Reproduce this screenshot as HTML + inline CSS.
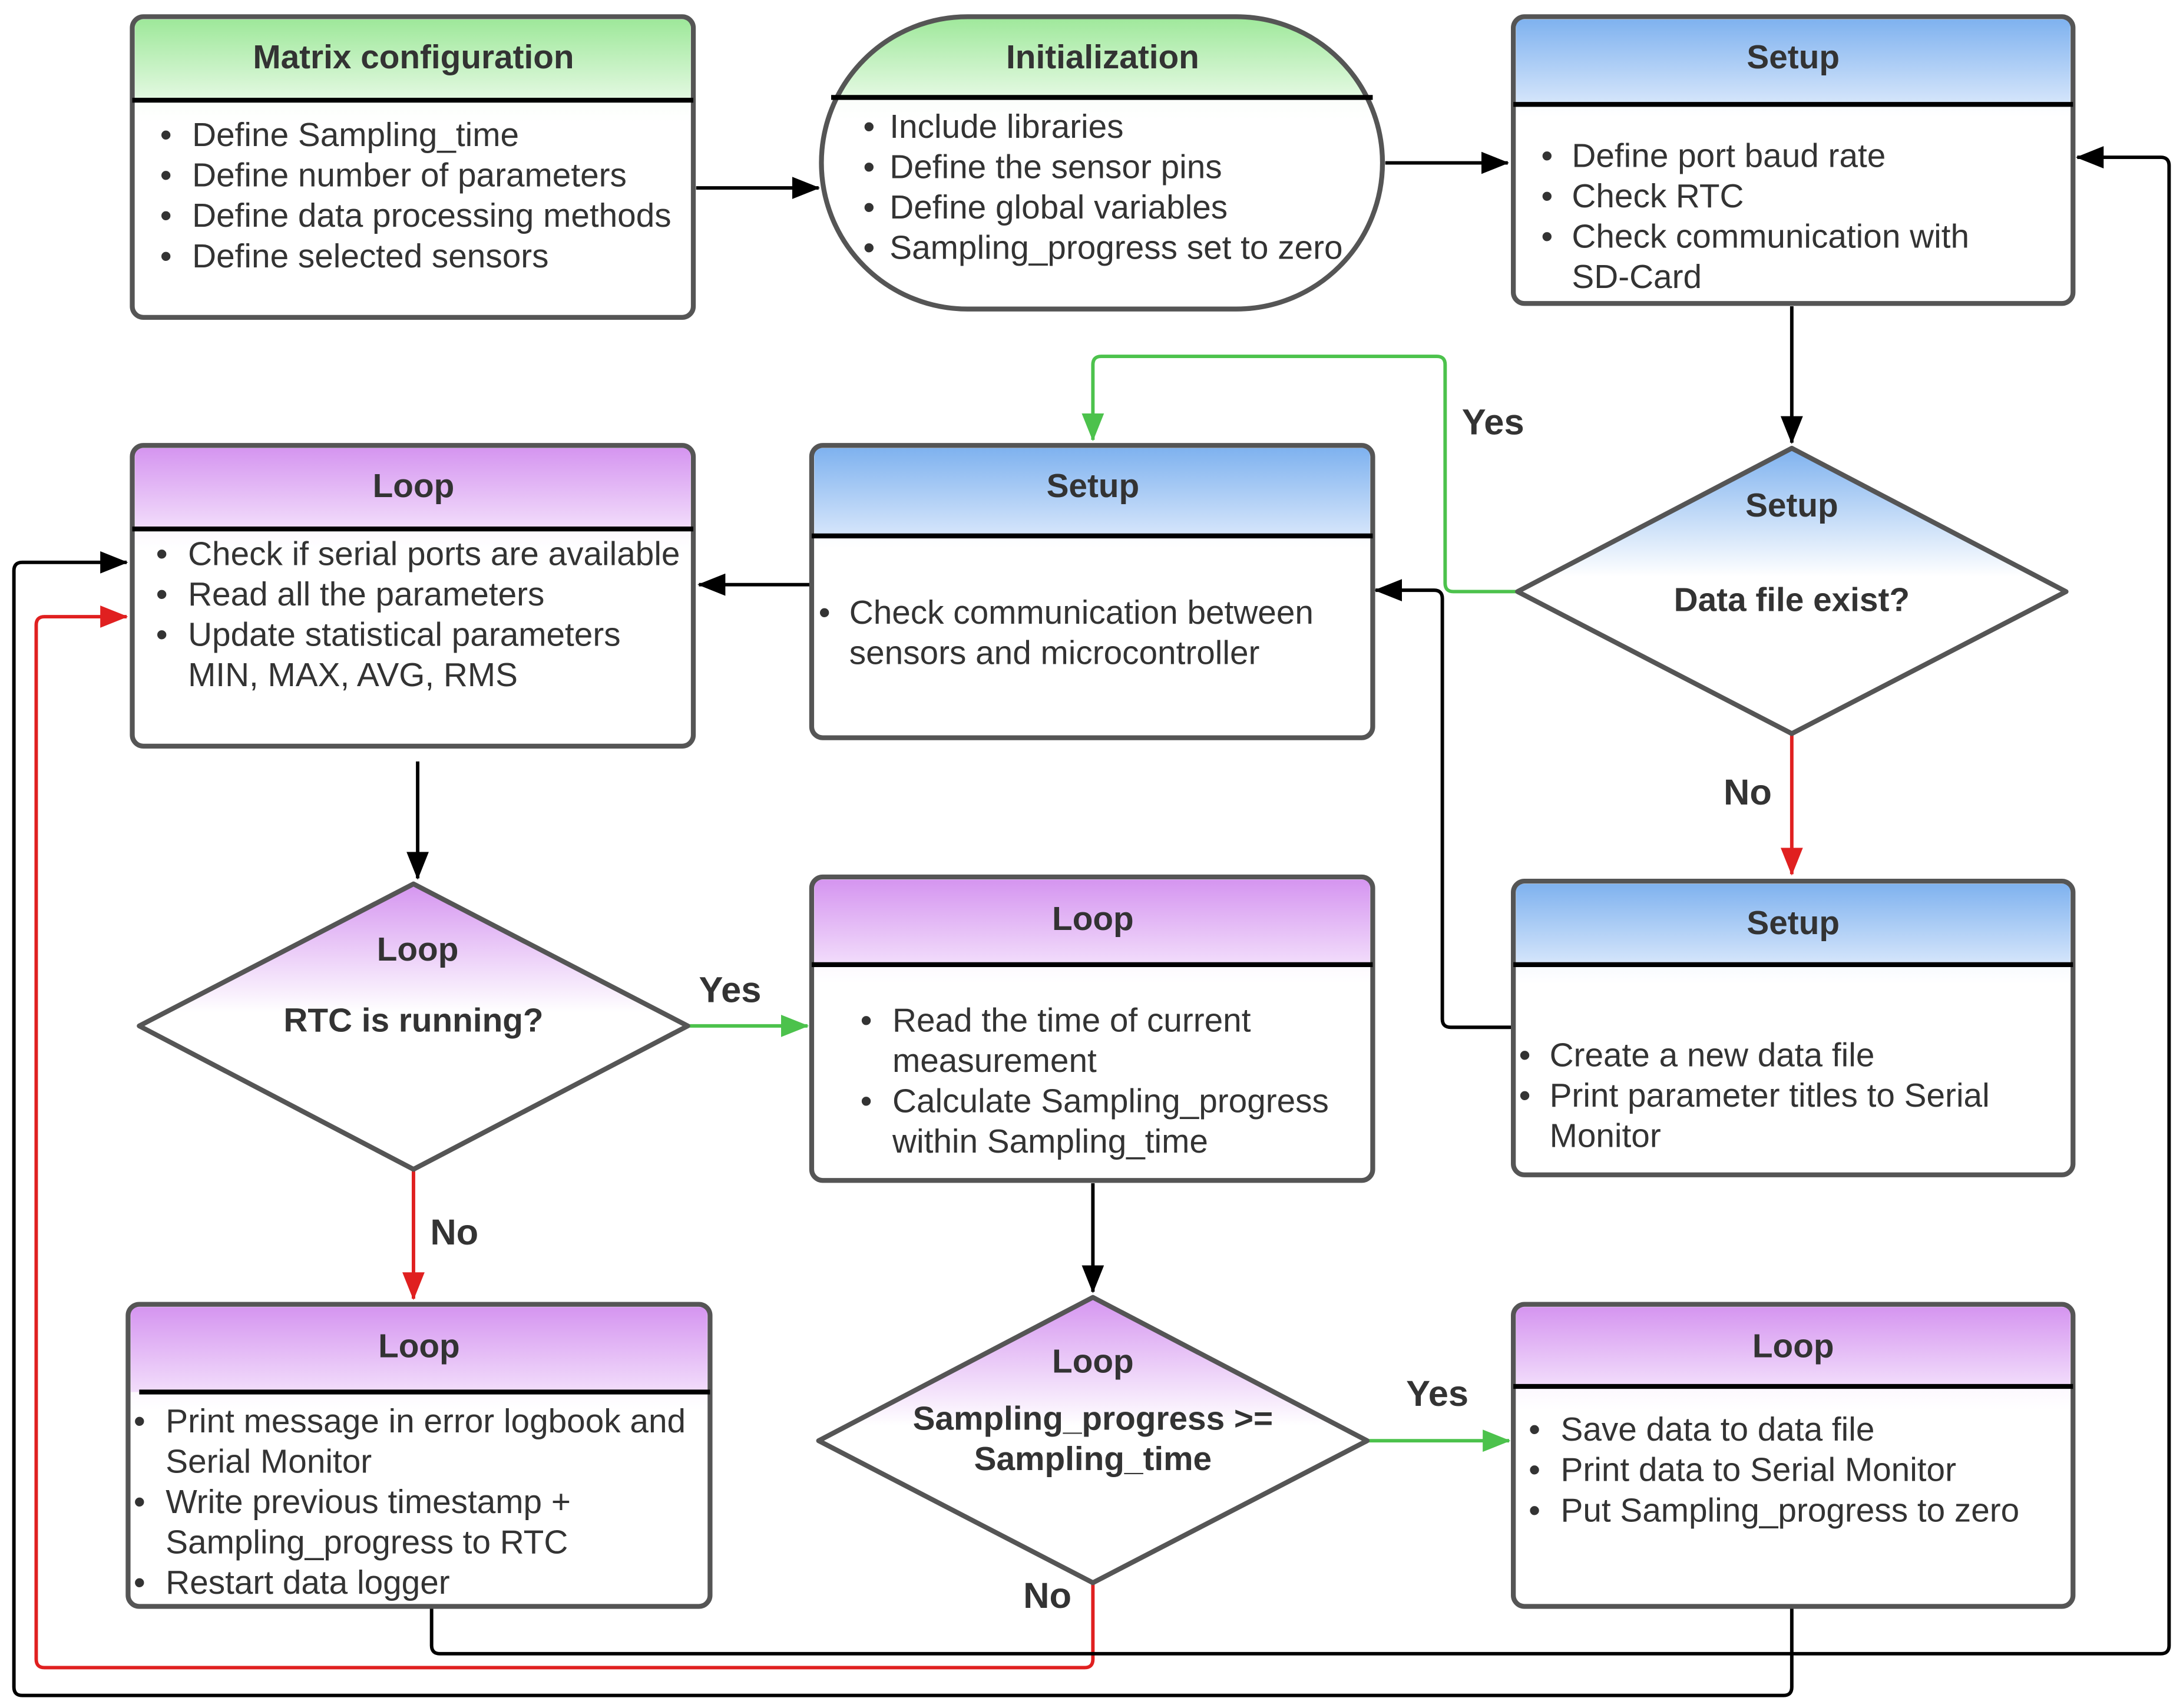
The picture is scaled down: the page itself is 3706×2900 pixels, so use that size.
<!DOCTYPE html>
<html><head><meta charset="utf-8">
<style>
html,body{margin:0;padding:0;background:#fff;}
svg{display:block;}
text{font-family:"Liberation Sans",Arial,sans-serif;fill:#333;}
.h{font-weight:bold;font-size:24px;text-anchor:middle;}
.t{font-size:24px;}
.lb{font-weight:bold;font-size:26px;}
</style></head><body>
<svg width="3706" height="2900" viewBox="0 0 1568 1227" preserveAspectRatio="none" xmlns="http://www.w3.org/2000/svg">
<defs>
<linearGradient id="g" x1="0" y1="0" x2="0" y2="1"><stop offset="0" stop-color="#9ee89a"/><stop offset="1" stop-color="#e4f9e2"/></linearGradient>
<linearGradient id="gb" x1="0" y1="0" x2="0" y2="1"><stop offset="0" stop-color="#e6fbe4"/><stop offset="0.35" stop-color="#fff"/></linearGradient>
<linearGradient id="b" x1="0" y1="0" x2="0" y2="1"><stop offset="0" stop-color="#7fb2ef"/><stop offset="1" stop-color="#d6e6fb"/></linearGradient>
<linearGradient id="bb" x1="0" y1="0" x2="0" y2="1"><stop offset="0" stop-color="#d6e6fb"/><stop offset="0.35" stop-color="#fff"/></linearGradient>
<linearGradient id="p" x1="0" y1="0" x2="0" y2="1"><stop offset="0" stop-color="#d595f0"/><stop offset="1" stop-color="#f2ddfb"/></linearGradient>
<linearGradient id="pb" x1="0" y1="0" x2="0" y2="1"><stop offset="0" stop-color="#f1dcfb"/><stop offset="0.35" stop-color="#fff"/></linearGradient>
<linearGradient id="db" x1="0" y1="0" x2="0" y2="1"><stop offset="0" stop-color="#7fb2ef"/><stop offset="0.45" stop-color="#fff"/></linearGradient>
<linearGradient id="dp" x1="0" y1="0" x2="0" y2="1"><stop offset="0" stop-color="#d595f0"/><stop offset="0.45" stop-color="#fff"/></linearGradient>
<marker id="ak" markerWidth="20" markerHeight="16" refX="19" refY="8" orient="auto" markerUnits="userSpaceOnUse" viewBox="0 0 20 16"><path d="M0,0 L20,8 L0,16z" fill="#000"/></marker>
<marker id="ar" markerWidth="20" markerHeight="16" refX="19" refY="8" orient="auto" markerUnits="userSpaceOnUse" viewBox="0 0 20 16"><path d="M0,0 L20,8 L0,16z" fill="#e02020"/></marker>
<marker id="ag" markerWidth="20" markerHeight="16" refX="19" refY="8" orient="auto" markerUnits="userSpaceOnUse" viewBox="0 0 20 16"><path d="M0,0 L20,8 L0,16z" fill="#4cc24c"/></marker>
</defs>
<style>
.bx{stroke:#555;stroke-width:3.5;}
.k{stroke:#000;stroke-width:2.5;fill:none;marker-end:url(#ak);}
.r{stroke:#e02020;stroke-width:2.5;fill:none;marker-end:url(#ar);}
.gr{stroke:#4cc24c;stroke-width:2.5;fill:none;marker-end:url(#ag);}
.ln{stroke:#000;stroke-width:3.5;}
</style>

<path class="k" d="M500,135 H588"/>
<path class="k" d="M995,117 H1083"/>
<path class="k" d="M1287,220 V318"/>
<path class="gr" d="M1090,425 H1044 Q1038,425 1038,419 V262 Q1038,256 1032,256 H791 Q785,256 785,262 V316"/>
<path class="r" d="M1287,528 V628"/>
<path class="k" d="M1087,738 H1042 Q1036,738 1036,732 V430 Q1036,424 1030,424 H988"/>
<path class="k" d="M583,420 H502"/>
<path class="k" d="M300,547 V631"/>
<path class="gr" d="M494,737 H580"/>
<path class="r" d="M297,840 V933"/>
<path class="k" d="M785,850 V928"/>
<path class="gr" d="M982,1035 H1084"/>
<path class="r" d="M785,1137 V1192 Q785,1198 779,1198 H32 Q26,1198 26,1192 V449 Q26,443 32,443 H91"/>
<path class="k" d="M310,1154 V1182 Q310,1188 316,1188 H1552 Q1558,1188 1558,1182 V119 Q1558,113 1552,113 H1492"/>
<path class="k" d="M1287,1154 V1212 Q1287,1218 1281,1218 H16 Q10,1218 10,1212 V410 Q10,404 16,404 H91"/>

<text class="lb" x="1050" y="312">Yes</text>
<text class="lb" x="1238" y="578">No</text>
<text class="lb" x="502" y="720">Yes</text>
<text class="lb" x="309" y="894">No</text>
<text class="lb" x="1010" y="1010">Yes</text>
<text class="lb" x="735" y="1155">No</text>

<!-- Matrix configuration -->
<rect x="95" y="12" width="403" height="216" rx="8" fill="url(#gb)"/>
<path d="M97,14 H496 V72 H97z" fill="url(#g)"/>
<rect x="95" y="12" width="403" height="216" rx="8" fill="none" stroke="#555" stroke-width="3.5"/>
<line class="ln" x1="95" y1="72" x2="498" y2="72"/>
<text class="h" x="297" y="49">Matrix configuration</text>
<g class="t"><text class="t" x="115" y="105">•</text><text class="t" x="138" y="105">Define Sampling_time</text>
<text class="t" x="115" y="134">•</text><text class="t" x="138" y="134">Define number of parameters</text>
<text class="t" x="115" y="163">•</text><text class="t" x="138" y="163">Define data processing methods</text>
<text class="t" x="115" y="192">•</text><text class="t" x="138" y="192">Define selected sensors</text></g>

<!-- Initialization -->
<clipPath id="ci"><rect x="590" y="12" width="403" height="210" rx="105"/></clipPath>
<g clip-path="url(#ci)"><rect x="590" y="12" width="403" height="210" fill="url(#gb)"/><rect x="590" y="12" width="403" height="58" fill="url(#g)"/></g>
<rect x="590" y="12" width="403" height="210" rx="105" fill="none" stroke="#555" stroke-width="3.5"/>
<line class="ln" x1="597" y1="70" x2="986" y2="70"/>
<text class="h" x="792" y="49">Initialization</text>
<text class="t" x="620" y="99">•</text><text class="t" x="639" y="99">Include libraries</text>
<text class="t" x="620" y="128">•</text><text class="t" x="639" y="128">Define the sensor pins</text>
<text class="t" x="620" y="157">•</text><text class="t" x="639" y="157">Define global variables</text>
<text class="t" x="620" y="186">•</text><text class="t" x="639" y="186">Sampling_progress set to zero</text>

<!-- Setup top -->
<rect x="1087" y="12" width="402" height="206" rx="8" fill="url(#bb)"/>
<path d="M1089,14 H1487 V75 H1089z" fill="url(#b)"/>
<rect x="1087" y="12" width="402" height="206" rx="8" fill="none" stroke="#555" stroke-width="3.5"/>
<line class="ln" x1="1087" y1="75" x2="1489" y2="75"/>
<text class="h" x="1288" y="49">Setup</text>
<text class="t" x="1107" y="120">•</text><text class="t" x="1129" y="120">Define port baud rate</text>
<text class="t" x="1107" y="149">•</text><text class="t" x="1129" y="149">Check RTC</text>
<text class="t" x="1107" y="178">•</text><text class="t" x="1129" y="178">Check communication with</text>
<text class="t" x="1129" y="207">SD-Card</text>

<!-- Loop top-left -->
<rect x="95" y="320" width="403" height="216" rx="8" fill="url(#pb)"/>
<path d="M97,322 H496 V380 H97z" fill="url(#p)"/>
<rect x="95" y="320" width="403" height="216" rx="8" fill="none" stroke="#555" stroke-width="3.5"/>
<line class="ln" x1="95" y1="380" x2="498" y2="380"/>
<text class="h" x="297" y="357">Loop</text>
<text class="t" x="112" y="406">•</text><text class="t" x="135" y="406">Check if serial ports are available</text>
<text class="t" x="112" y="435">•</text><text class="t" x="135" y="435">Read all the parameters</text>
<text class="t" x="112" y="464">•</text><text class="t" x="135" y="464">Update statistical parameters</text>
<text class="t" x="135" y="493">MIN, MAX, AVG, RMS</text>

<!-- Setup middle -->
<rect x="583" y="320" width="403" height="210" rx="8" fill="url(#bb)"/>
<path d="M585,322 H984 V385 H585z" fill="url(#b)"/>
<rect x="583" y="320" width="403" height="210" rx="8" fill="none" stroke="#555" stroke-width="3.5"/>
<line class="ln" x1="583" y1="385" x2="986" y2="385"/>
<text class="h" x="785" y="357">Setup</text>
<text class="t" x="588" y="448">•</text><text class="t" x="610" y="448">Check communication between</text>
<text class="t" x="610" y="477">sensors and microcontroller</text>

<!-- Diamond Setup -->
<path class="bx" d="M1287,322 L1484,425 L1287,527 L1090,425z" fill="url(#db)" stroke-linejoin="round"/>
<text class="h" x="1287" y="371">Setup</text>
<text class="h" x="1287" y="439">Data file exist?</text>

<!-- Setup right -->
<rect x="1087" y="633" width="402" height="211" rx="8" fill="url(#bb)"/>
<path d="M1089,635 H1487 V693 H1089z" fill="url(#b)"/>
<rect x="1087" y="633" width="402" height="211" rx="8" fill="none" stroke="#555" stroke-width="3.5"/>
<line class="ln" x1="1087" y1="693" x2="1489" y2="693"/>
<text class="h" x="1288" y="671">Setup</text>
<text class="t" x="1091" y="766">•</text><text class="t" x="1113" y="766">Create a new data file</text>
<text class="t" x="1091" y="795">•</text><text class="t" x="1113" y="795">Print parameter titles to Serial</text>
<text class="t" x="1113" y="824">Monitor</text>

<!-- Diamond RTC -->
<path class="bx" d="M297,635 L494,737 L297,840 L100,737z" fill="url(#dp)" stroke-linejoin="round"/>
<text class="h" x="300" y="690">Loop</text>
<text class="h" x="297" y="741">RTC is running?</text>

<!-- Loop middle -->
<rect x="583" y="630" width="403" height="218" rx="8" fill="url(#pb)"/>
<path d="M585,632 H984 V693 H585z" fill="url(#p)"/>
<rect x="583" y="630" width="403" height="218" rx="8" fill="none" stroke="#555" stroke-width="3.5"/>
<line class="ln" x1="583" y1="693" x2="986" y2="693"/>
<text class="h" x="785" y="668">Loop</text>
<text class="t" x="618" y="741">•</text><text class="t" x="641" y="741">Read the time of current</text>
<text class="t" x="641" y="770">measurement</text>
<text class="t" x="618" y="799">•</text><text class="t" x="641" y="799">Calculate Sampling_progress</text>
<text class="t" x="641" y="828">within Sampling_time</text>

<!-- Loop bottom-left -->
<rect x="92" y="937" width="418" height="217" rx="8" fill="url(#pb)"/>
<path d="M94,939 H508 V1000 H94z" fill="url(#p)"/>
<rect x="92" y="937" width="418" height="217" rx="8" fill="none" stroke="#555" stroke-width="3.5"/>
<line class="ln" x1="100" y1="1000" x2="510" y2="1000"/>
<text class="h" x="301" y="975">Loop</text>
<text class="t" x="96" y="1029">•</text><text class="t" x="119" y="1029">Print message in error logbook and</text>
<text class="t" x="119" y="1058">Serial Monitor</text>
<text class="t" x="96" y="1087">•</text><text class="t" x="119" y="1087">Write previous timestamp +</text>
<text class="t" x="119" y="1116">Sampling_progress to RTC</text>
<text class="t" x="96" y="1145">•</text><text class="t" x="119" y="1145">Restart data logger</text>

<!-- Diamond Sampling -->
<path class="bx" d="M785,932 L982,1035 L785,1137 L588,1035z" fill="url(#dp)" stroke-linejoin="round"/>
<text class="h" x="785" y="986">Loop</text>
<text class="h" x="785" y="1027">Sampling_progress &gt;=</text>
<text class="h" x="785" y="1056">Sampling_time</text>

<!-- Loop bottom-right -->
<rect x="1087" y="937" width="402" height="217" rx="8" fill="url(#pb)"/>
<path d="M1089,939 H1487 V996 H1089z" fill="url(#p)"/>
<rect x="1087" y="937" width="402" height="217" rx="8" fill="none" stroke="#555" stroke-width="3.5"/>
<line class="ln" x1="1087" y1="996" x2="1489" y2="996"/>
<text class="h" x="1288" y="975">Loop</text>
<text class="t" x="1098" y="1035">•</text><text class="t" x="1121" y="1035">Save data to data file</text>
<text class="t" x="1098" y="1064">•</text><text class="t" x="1121" y="1064">Print data to Serial Monitor</text>
<text class="t" x="1098" y="1093">•</text><text class="t" x="1121" y="1093">Put Sampling_progress to zero</text>
</svg>
</body></html>
